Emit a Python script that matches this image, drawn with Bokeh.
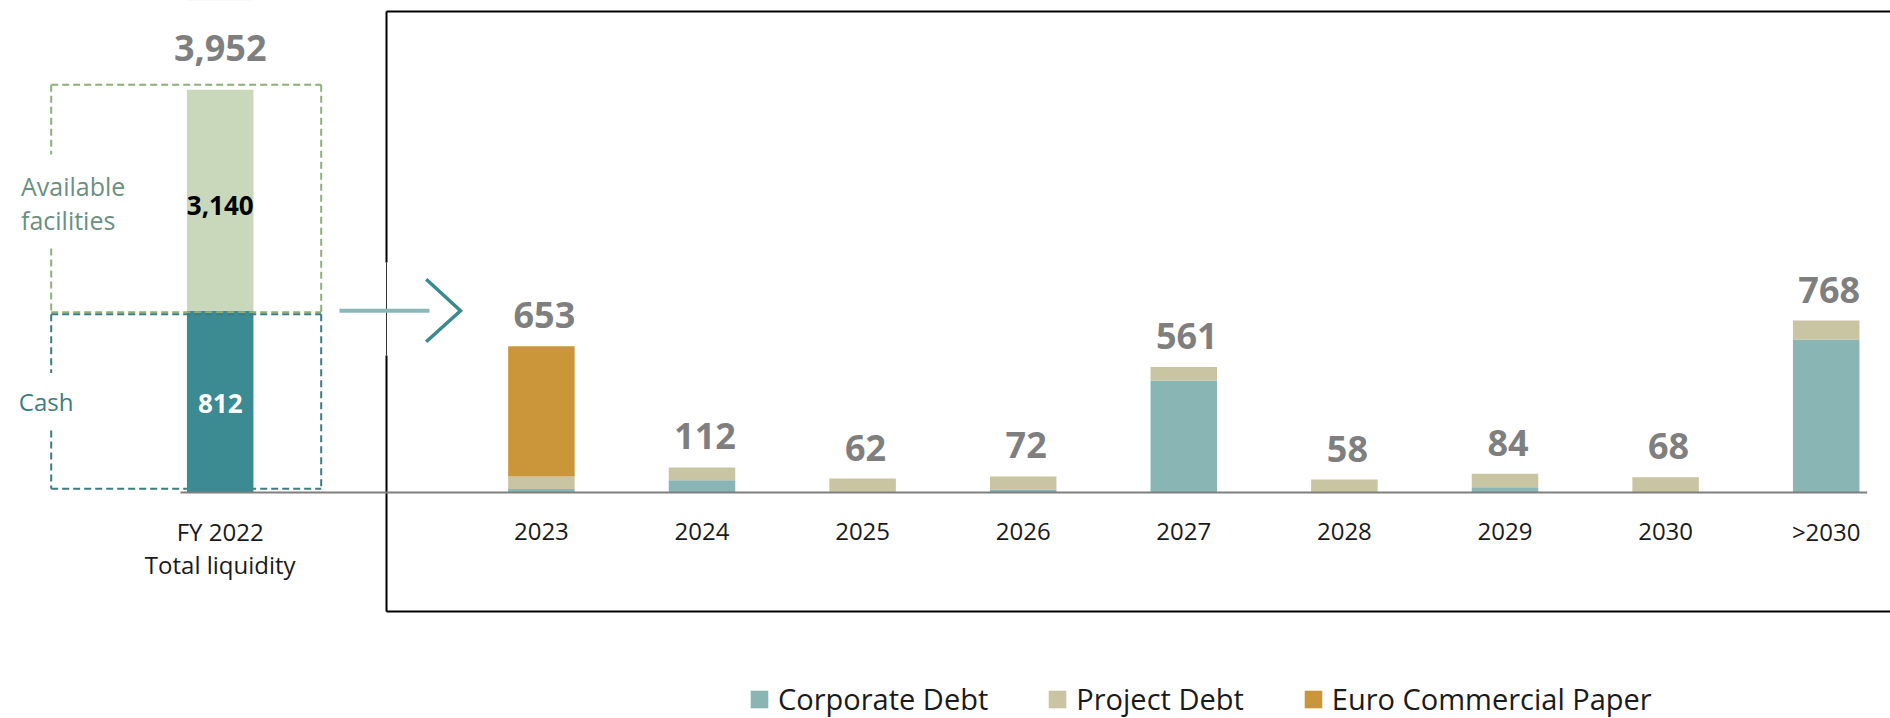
import numpy as np
from bokeh.plotting import figure
from bokeh.models import ColumnDataSource, Range1d
from bokeh.core.properties import value
from bokeh.embed import file_html
from bokeh.resources import INLINE

# ---------------- data ----------------
years = ["2023", "2024", "2025", "2026", "2027", "2028", "2029", "2030", ">2030"]
corporate_debt = [16, 55, 4, 13, 500, 0, 24, 0, 684]
project_debt = [55, 57, 58, 59, 61, 58, 60, 68, 84]
euro_commercial_paper = [582, 0, 0, 0, 0, 0, 0, 0, 0]
maturity_totals = [653, 112, 62, 72, 561, 58, 84, 68, 768]

series_names = ["Corporate Debt", "Project Debt", "Euro Commercial Paper"]

liquidity_labels = ["FY 2022", "Total liquidity"]
cash = 812
available_facilities = 3140
total_liquidity = 3952
side_labels = ["Available", "facilities", "Cash"]

# ---------------- style / layout ----------------
C_CORP = "#89b5b5"
C_PROJ = "#c9c4a2"
C_ECP = "#cb963a"
C_CASH = "#3c8a92"
C_FAC = "#c9d7bb"
C_VAL = "#7f7f7f"
C_TXT = "#1a1a1a"
C_BOX_UP = "#90ae78"
C_BOX_LOW = "#3b7d80"
FONT = value("Open Sans")

W, H = 1890, 718
PAGE = 0
X0, DX = 219.7, 160.6     # page px of first category centre, px per category slot
BASE, K = 492.0, 0.2238   # page px of value 0, px per unit


def fx(px):
    return (px - X0) / DX


def fy(py):
    return (BASE - py) / K


BAR_W = 66.5 / DX

p = figure(width=W, height=H, output_backend="svg", toolbar_location=None,
           x_range=Range1d(fx(PAGE), fx(PAGE + W)),
           y_range=Range1d(fy(PAGE + H), fy(PAGE)),
           x_axis_type=None, y_axis_type=None, min_border=0)
p.min_border_left = p.min_border_right = p.min_border_top = p.min_border_bottom = 0
p.outline_line_color = None
p.background_fill_color = "white"
p.border_fill_color = "white"

# ---------------- left panel: total liquidity ----------------
L, R = 50.7, 320.7
# bottom dashed line of the cash box (behind the bar)
p.segment(x0=[fx(L)], y0=[fy(488.3)], x1=[fx(R)], y1=[fy(488.3)],
          line_color=C_BOX_LOW, line_width=2, line_dash="7 4")

lx = [0]
p.vbar(x=lx, width=BAR_W, bottom=[0], top=[cash], fill_color=C_CASH, line_color=None)
p.vbar(x=lx, width=BAR_W, bottom=[cash], top=[cash + available_facilities],
       fill_color=C_FAC, line_color=None)
# axis break: the facilities bar is cut at the top of the panel
p.quad(left=[fx(170)], right=[fx(270)], bottom=[fy(89.3)], top=[fy(-60)],
       fill_color="white", line_color=None)

# dashed boxes
mid_up = BASE - cash * K + 1.5
mid_low = mid_up + 2
p.segment(x0=[fx(L), fx(R), fx(L), fx(L), fx(L)],
          y0=[fy(84.3), fy(84.3), fy(mid_up), fy(84.3), fy(248)],
          x1=[fx(R), fx(R), fx(R), fx(L), fx(L)],
          y1=[fy(84.3), fy(mid_up), fy(mid_up), fy(154), fy(mid_up)],
          line_color=C_BOX_UP, line_width=2, line_dash="7 4")
p.segment(x0=[fx(L), fx(R), fx(L), fx(L)],
          y0=[fy(mid_low), fy(mid_low), fy(mid_low), fy(430)],
          x1=[fx(R), fx(R), fx(L), fx(L)],
          y1=[fy(mid_low), fy(488.3), fy(372.6), fy(488.3)],
          line_color=C_BOX_LOW, line_width=2, line_dash="7 4")

# labels of the left panel
p.text(x=lx, y=[fy(47.5)], text=[f"{total_liquidity:,}"], text_align="center",
       text_baseline="middle", text_font=FONT, text_font_style="bold",
       text_font_size="36px", text_color=C_VAL)
p.text(x=lx, y=[fy(205)], text=[f"{available_facilities:,}"], text_align="center",
       text_baseline="middle", text_font=FONT, text_font_style="bold",
       text_font_size="26px", text_color="#000000")
p.text(x=lx, y=[cash / 2], text=[f"{cash:,}"], text_align="center", y_offset=2,
       text_baseline="middle", text_font=FONT, text_font_style="bold",
       text_font_size="26px", text_color="white")
p.text(x=[fx(20.5), fx(20.5)], y=[fy(185), fy(219.5)], text=side_labels[:2],
       text_align="left", text_baseline="middle", text_font=FONT,
       text_font_size="25px", text_color="#6b9080")
p.text(x=[fx(18.3)], y=[fy(400.5)], text=side_labels[2:],
       text_align="left", text_baseline="middle", text_font=FONT,
       text_font_size="24px", text_color=C_BOX_LOW)
p.text(x=lx, y=[0], text=[liquidity_labels[0]], text_align="center", y_offset=39.3,
       text_baseline="middle", text_font=FONT, text_font_size="24px", text_color=C_TXT)
p.text(x=lx, y=[0], text=[liquidity_labels[1]], text_align="center", y_offset=72,
       text_baseline="middle", text_font=FONT, text_font_size="24px", text_color=C_TXT)

# ---------------- right panel frame & arrow ----------------
BX = fx(386)
p.segment(x0=[BX, BX, BX, BX], y0=[fy(11), fy(611), fy(11), fy(355)],
          x1=[fx(1900), fx(1900), BX, BX], y1=[fy(11), fy(611), fy(262), fy(611)],
          line_color="black", line_width=2)
p.segment(x0=[BX], y0=[fy(262)], x1=[BX], y1=[fy(355)], line_color="#333333", line_width=1)

p.line(x=[fx(339), fx(429)], y=[cash, cash], line_color="#8ab8b8", line_width=4)
p.line(x=[fx(425.7), fx(460), fx(425.7)], y=[cash + 31.5 / K, cash, cash - 31 / K],
       line_color="#3a8a90", line_width=3.5, line_join="miter")

# ---------------- right panel: debt maturities ----------------
src = ColumnDataSource(dict(
    x=np.arange(len(years)) + 2,
    year=years,
    corporate=corporate_debt,
    project=project_debt,
    ecp=euro_commercial_paper,
    total=maturity_totals,
    label=[f"{v:,}" for v in maturity_totals],
))
p.vbar_stack(["corporate", "project", "ecp"], x="x", width=BAR_W, source=src,
             fill_color=[C_CORP, C_PROJ, C_ECP], line_color=None,
             legend_label=series_names)

# baseline
p.segment(x0=[fx(180)], y0=[0], x1=[fx(1866.7)], y1=[0], line_color="#7f7f7f", line_width=2)

p.text(x="x", y="total", text="label", source=src, text_align="center",
       text_baseline="middle", y_offset=-31, x_offset=3, text_font=FONT,
       text_font_style="bold", text_font_size="36px", text_color=C_VAL)
p.text(x="x", y=0, text="year", source=src, text_align="center",
       text_baseline="middle", y_offset=39.4, text_font=FONT,
       text_font_size="24px", text_color=C_TXT)

# ---------------- legend ----------------
lg = p.legend[0]
lg.orientation = "horizontal"
lg.location = (748, 0)
lg.glyph_width = 22
lg.glyph_height = 22
lg.label_standoff = 8
lg.spacing = 58
lg.padding = 0
lg.margin = 0
lg.label_text_font = "Open Sans"
lg.label_text_font_size = "29px"
lg.label_text_color = C_TXT
lg.border_line_color = None
lg.background_fill_alpha = 0

open("out.html", "w").write(file_html(p, INLINE))
